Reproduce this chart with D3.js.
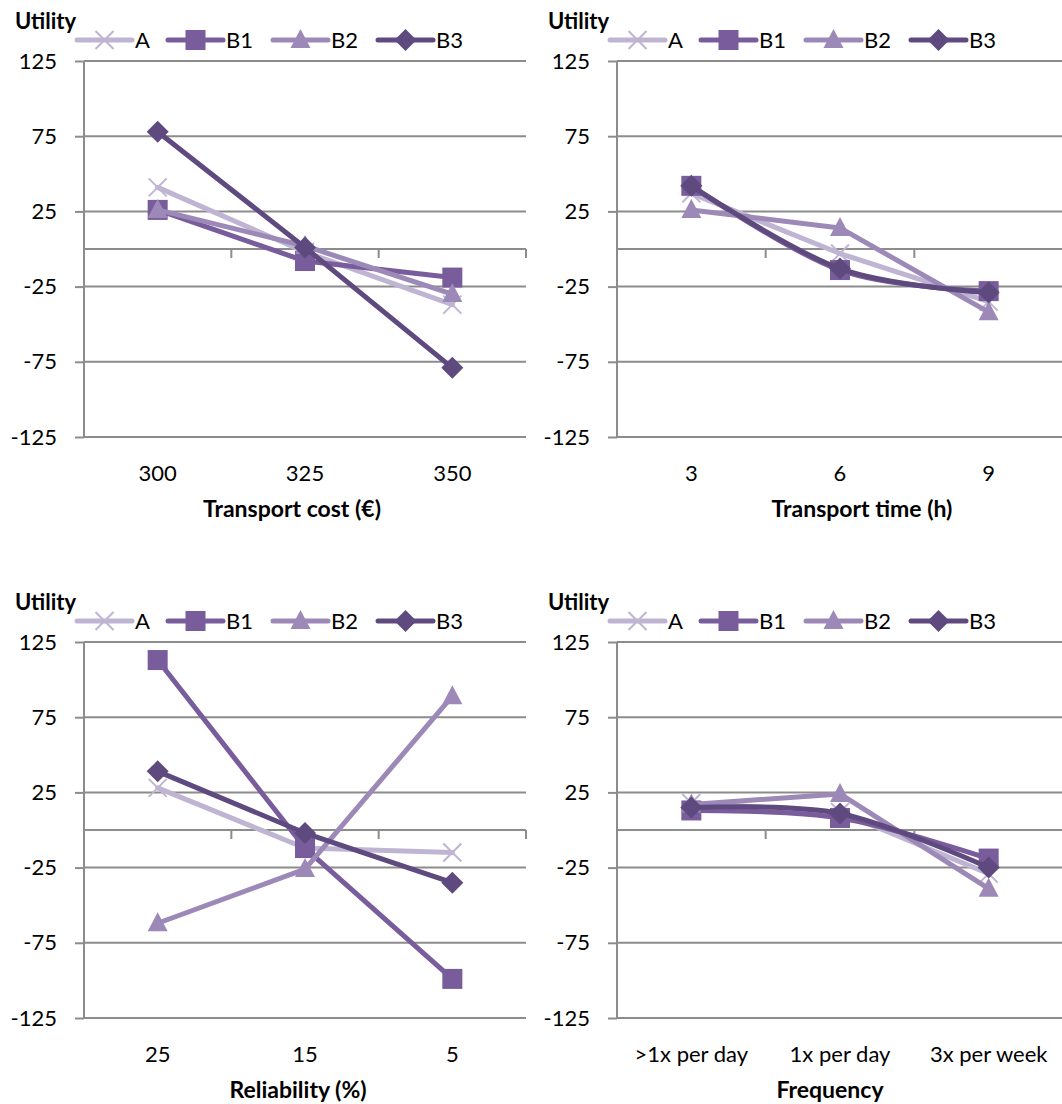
<!DOCTYPE html>
<html>
    <head>
        <meta charset="utf-8">
        <title>Utility charts</title>
        <script src="https://d3js.org/d3.v7.min.js"></script>
        <style>
            html, body {
                margin: 0;
                padding: 0;
                background: #fff;
                overflow: hidden;
            }
            svg text {
                font-family: Lato, Carlito, "Open Sans", sans-serif;
                font-size: 22px;
                fill: #000;
            }
            .title {
                font-weight: bold;
            }
        </style>
    </head>
    <body>
        <svg id="container" width="1062" height="1104"></svg>
        <script>
            const seriesNames = ['A', 'B1', 'B2', 'B3'];
            const yTicks = [-125, -75, -25, 25, 75, 125];

            const costCategories = ['300', '325', '350'];
            const costA = [41, -2, -37];
            const costB1 = [26, -8, -19];
            const costB2 = [26, 2, -30];
            const costB3 = [78, 1, -79];

            const timeCategories = ['3', '6', '9'];
            const timeA = [37, -3, -35];
            const timeB1 = [42, -14, -28];
            const timeB2 = [26, 14, -42];
            const timeB3 = [42, -13, -29];

            const reliabilityCategories = ['25', '15', '5'];
            const reliabilityA = [28, -12, -15];
            const reliabilityB1 = [113, -12, -99];
            const reliabilityB2 = [-62, -26, 89];
            const reliabilityB3 = [39, -2, -35];

            const frequencyCategories = ['>1x per day', '1x per day', '3x per week'];
            const frequencyA = [18, 12, -29];
            const frequencyB1 = [13, 8, -19];
            const frequencyB2 = [17, 24, -39];
            const frequencyB3 = [15, 11, -25];

            const colors = {A: '#bfb5d3', B1: '#785c9b', B2: '#9c89b8', B3: '#5f4a7f'};
            const symbols = {A: 'x', B1: 'square', B2: 'triangle', B3: 'diamond'};

            // which series Excel drew as smoothed lines
            const smoothed = ['B1', 'B3'];

            const panels = [
                {x: 84, y: 61, w: 442, title: 'Transport cost (€)', titleX: 292, cats: costCategories,
                    data: [costA, costB1, costB2, costB3], smooth: false},
                {x: 617, y: 61, w: 446, title: 'Transport time (h)', titleX: 862, cats: timeCategories,
                    data: [timeA, timeB1, timeB2, timeB3], smooth: true},
                {x: 84, y: 642, w: 442, title: 'Reliability (%)', titleX: 298, cats: reliabilityCategories,
                    data: [reliabilityA, reliabilityB1, reliabilityB2, reliabilityB3], smooth: false},
                {x: 617, y: 642, w: 446, title: 'Frequency', titleX: 830, cats: frequencyCategories,
                    data: [frequencyA, frequencyB1, frequencyB2, frequencyB3], smooth: true}
            ];
            const plotH = 376;
            const gridColor = '#8c8c8c';

            const svg = d3.select('#container');

            function drawMarker(g, type, color) {
                if (type === 'square') {
                    g.append('rect').attr('x', -10).attr('y', -10).attr('width', 20).attr('height', 20)
                        .attr('fill', color);
                } else if (type === 'diamond') {
                    g.append('path').attr('d', 'M0,-11L11,0L0,11L-11,0Z').attr('fill', color);
                } else if (type === 'triangle') {
                    g.append('path').attr('d', 'M0,-11L10,8L-10,8Z').attr('fill', color);
                } else {
                    g.append('path').attr('d', 'M-9,-9L9,9M9,-9L-9,9')
                        .attr('stroke', color).attr('stroke-width', 2).attr('fill', 'none');
                }
            }

            panels.forEach(p => {
                const g = svg.append('g');
                const y = d3.scaleLinear().domain([-125, 125]).range([p.y + plotH, p.y]);
                const x = d3.scaleBand().domain(p.cats).range([p.x, p.x + p.w]);
                const cx = c => x(c) + x.bandwidth() / 2;

                // gridlines
                g.selectAll('line.grid')
                    .data(yTicks)
                    .join('line')
                    .attr('class', 'grid')
                    .attr('x1', p.x).attr('x2', p.x + p.w)
                    .attr('y1', d => y(d)).attr('y2', d => y(d))
                    .attr('stroke', gridColor).attr('stroke-width', 2);

                // y axis (plain hyphen for negatives, like the original)
                const yAxis = d3.axisLeft(y).tickValues(yTicks).tickSize(9).tickPadding(18)
                    .tickFormat(d => String(d));
                const ya = g.append('g').attr('transform', `translate(${p.x},0)`).call(yAxis);
                ya.select('.domain').attr('stroke', gridColor).attr('stroke-width', 2)
                    .attr('d', `M0,${p.y}V${p.y + plotH}`);
                ya.selectAll('.tick line').attr('stroke', gridColor).attr('stroke-width', 2);
                ya.selectAll('.tick text').attr('font-size', 22).attr('font-family', null).attr('fill', '#000');

                // category axis at zero
                const xAxis = d3.axisBottom(x).tickSize(0).tickFormat('');
                const xa = g.append('g').attr('transform', `translate(0,${y(0)})`).call(xAxis);
                xa.select('.domain').attr('stroke', gridColor).attr('stroke-width', 2)
                    .attr('d', `M${p.x},0H${p.x + p.w}`);
                g.selectAll('line.ctick')
                    .data(d3.range(p.cats.length + 1))
                    .join('line')
                    .attr('class', 'ctick')
                    .attr('x1', i => p.x + i * x.bandwidth()).attr('x2', i => p.x + i * x.bandwidth())
                    .attr('y1', y(0)).attr('y2', y(0) + 9)
                    .attr('stroke', gridColor).attr('stroke-width', 2);

                // category labels at the bottom
                g.selectAll('text.cat')
                    .data(p.cats)
                    .join('text')
                    .attr('class', 'cat')
                    .attr('x', d => cx(d))
                    .attr('y', p.y + plotH + 44)
                    .attr('text-anchor', 'middle')
                    .text(d => d);

                g.append('text').attr('class', 'title')
                    .attr('x', p.titleX).attr('y', p.y + plotH + 80)
                    .attr('text-anchor', 'middle')
                    .style('font-size', '23px')
                    .text(p.title);

                g.append('text').attr('class', 'title')
                    .attr('x', p.x - 69).attr('y', p.y - 32)
                    .text('Utility');

                // series
                seriesNames.forEach((name, si) => {
                    const vals = p.data[si];
                    const curve = p.smooth && smoothed.includes(name) ? d3.curveCardinal.tension(0) : d3.curveLinear;
                    const line = d3.line()
                        .x((d, i) => cx(p.cats[i]))
                        .y(d => y(d))
                        .curve(curve);
                    g.append('path')
                        .attr('d', line(vals))
                        .attr('fill', 'none')
                        .attr('stroke', colors[name])
                        .attr('stroke-width', 5)
                        .attr('stroke-linejoin', 'round')
                        .attr('stroke-linecap', 'round');
                    vals.forEach((v, i) => {
                        const m = g.append('g').attr('transform', `translate(${cx(p.cats[i])},${y(v)})`);
                        drawMarker(m, symbols[name], colors[name]);
                    });
                });

                // legend
                const legendX = [p.x - 7, p.x + 84, p.x + 189, p.x + 294];
                const ly = p.y - 21;
                seriesNames.forEach((name, i) => {
                    const lg = g.append('g').attr('transform', `translate(${legendX[i]},${ly})`);
                    lg.append('line').attr('x1', 0).attr('x2', 55).attr('y1', 0).attr('y2', 0)
                        .attr('stroke', colors[name]).attr('stroke-width', 5).attr('stroke-linecap', 'round');
                    const m = lg.append('g').attr('transform', 'translate(27.5,0)');
                    drawMarker(m, symbols[name], colors[name]);
                    lg.append('text').attr('x', 58).attr('y', 8).text(name);
                });
            });
        </script>
    </body>
</html>
